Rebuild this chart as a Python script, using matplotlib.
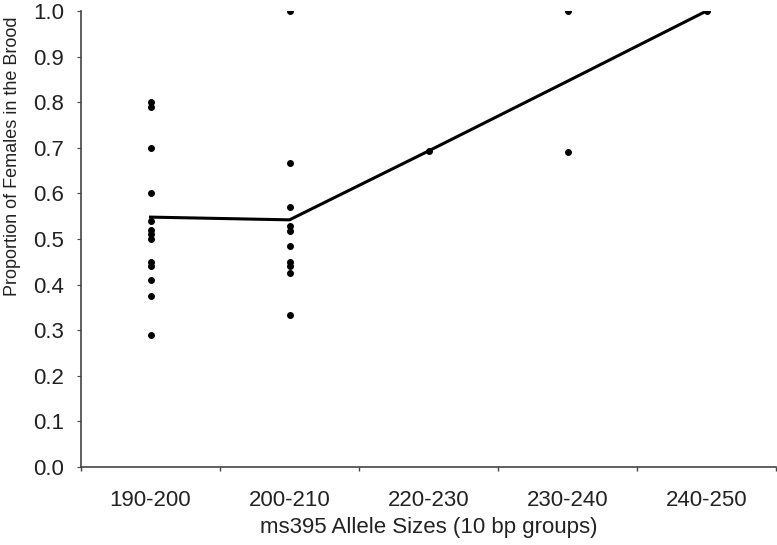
import matplotlib
matplotlib.use("Agg")
import matplotlib.pyplot as plt
import numpy as np

plt.rcParams['font.family'] = ['Liberation Sans', 'DejaVu Sans']

groups = ["190-200", "200-210", "220-230", "230-240", "240-250"]

# individual brood proportions per allele-size group
g190 = [0.80, 0.79, 0.70, 0.60, 0.54, 0.52, 0.51, 0.50, 0.45, 0.44, 0.41, 0.375, 0.29]
g200 = [1.0, 0.667, 0.571, 0.529, 0.517, 0.485, 0.45, 0.44, 0.425, 0.333]
g220 = [0.693]
g230 = [1.0, 0.69]
g240 = [1.0]
points = [g190, g200, g220, g230, g240]

# mean line
mean_vals = [0.548, 0.542, 0.693, 0.846, 1.0]

fig = plt.figure(figsize=(7.77, 5.45), dpi=100)
ax = fig.add_axes([81 / 777, 1 - 467 / 545, 695 / 777, 456 / 545])

for i, vals in enumerate(points):
    ax.plot([i] * len(vals), vals, 'o', color='black', markersize=4, zorder=3)

ax.plot(range(len(groups)), mean_vals, color='black', linewidth=2.2, zorder=2)

ax.set_xlim(-0.5, len(groups) - 0.5)
ax.set_ylim(0, 1.0)

ax.set_xticks(np.arange(-0.5, len(groups), 1.0))
ax.set_xticklabels([])
ax.set_xticks(range(len(groups)), minor=True)
ax.set_xticklabels(groups, minor=True)
ax.tick_params(axis='x', which='minor', length=0, pad=16.5, labelsize=16, colors='#222222')
ax.tick_params(axis='x', which='major', length=3, direction='out', width=1, colors='#444444')

ax.set_yticks(np.arange(0, 1.01, 0.1))
ax.set_yticklabels([f"{v:.1f}" for v in np.arange(0, 1.01, 0.1)])
ax.tick_params(axis='y', length=3, direction='out', pad=9, labelsize=16, labelcolor='#222222', color='#444444')

for s in ['top', 'right']:
    ax.spines[s].set_visible(False)
for s in ['left', 'bottom']:
    ax.spines[s].set_color('#444444')
    ax.spines[s].set_linewidth(1.2)

ax.set_xlabel("ms395 Allele Sizes (10 bp groups)", fontsize=16, color='#222222', labelpad=4.5)
ax.set_ylabel("Proportion of Females in the Brood", fontsize=13, color='#222222', labelpad=9, y=0.682)

fig.savefig("out.png", dpi=100)
